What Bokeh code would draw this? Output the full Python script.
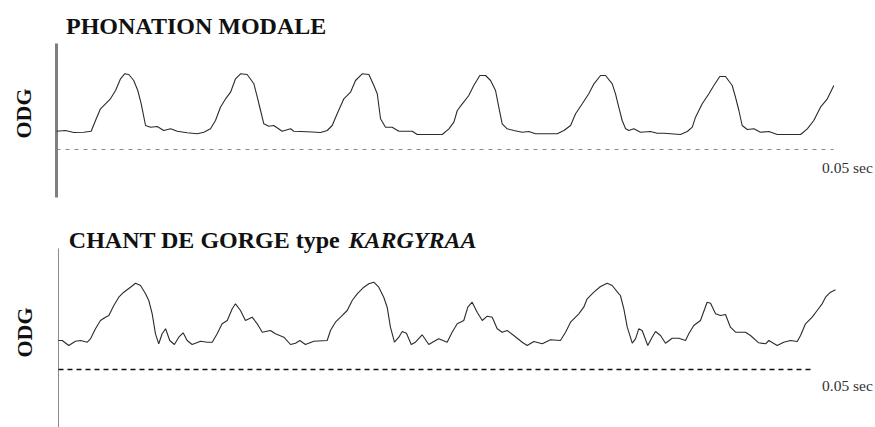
import math
from bokeh.plotting import figure
from bokeh.models import Range1d, Label
from bokeh.layouts import column
from bokeh.embed import file_html
from bokeh.resources import INLINE

# ---------------- data (time in ms, glottal flow ODG in arbitrary units, 0 = dashed time axis) ----
modal_t = [0.00, 0.58, 1.11, 1.76, 2.23, 2.51, 2.83, 3.15, 3.47, 3.80, 4.12, 4.38, 4.65, 4.97, 5.23,
           5.45, 5.73, 6.05, 6.48, 6.90, 7.34, 7.77, 8.41, 9.05, 9.48, 9.91, 10.23, 10.55, 10.88,
           11.20, 11.52, 11.84, 12.27, 12.70, 12.92, 13.13, 13.34, 13.66, 13.98, 14.52, 15.06, 15.27,
           16.13, 16.99, 17.42, 17.74, 18.06, 18.49, 18.92, 19.24, 19.67, 20.10, 20.42, 20.64, 20.85,
           21.17, 21.60, 22.03, 22.89, 23.21, 24.82, 25.25, 25.57, 25.79, 26.11, 26.53, 26.85, 27.24,
           27.61, 27.93, 28.25, 28.46, 28.68, 29.00, 29.43, 29.97, 30.39, 30.82, 32.22, 32.65, 33.08,
           33.40, 33.83, 34.25, 34.58, 35.01, 35.33, 35.76, 35.97, 36.18, 36.40, 36.62, 36.83, 37.15,
           37.58, 38.22, 38.66, 39.08, 40.15, 40.59, 40.91, 41.12, 41.55, 41.98, 42.30, 42.68, 43.05,
           43.48, 43.69, 43.91, 44.12, 44.45, 44.87, 45.30, 45.84, 46.38, 47.88, 48.31, 48.73, 49.16,
           49.60, 50.02]
modal_odg = [18.3, 19.0, 17.0, 17.3, 18.3, 29.0, 40.7, 45.7, 50.7, 59.0, 70.7, 75.7, 75.0, 69.0, 59.0,
             45.7, 24.0, 22.3, 23.0, 19.0, 20.7, 18.3, 16.7, 15.7, 17.3, 20.7, 29.0, 42.3, 50.7,
             57.3, 70.7, 75.7, 75.0, 65.7, 52.3, 39.0, 25.7, 23.3, 24.0, 18.3, 20.7, 18.3,
             17.7, 17.0, 19.0, 24.0, 35.7, 50.7, 57.3, 69.0, 75.7, 75.0, 64.0, 55.7, 30.7,
             22.3, 22.3, 18.3, 18.3, 15.0, 15.0, 20.7, 27.3, 39.0, 45.7, 54.0, 64.0, 74.0,
             74.0, 69.0, 59.0, 42.3, 25.7, 20.7, 19.0, 17.3, 18.0, 15.7, 15.7, 19.0, 24.0,
             35.7, 45.7, 55.7, 65.7, 74.0, 74.0, 65.7, 55.7, 42.3, 29.0, 20.7, 19.0, 20.7,
             17.3, 18.0, 16.3, 16.3, 15.0, 18.0, 22.3, 32.3, 45.7, 55.7, 64.0, 73.0, 73.0,
             64.0, 52.3, 39.0, 24.0, 20.0, 20.7, 17.3, 18.0, 15.0, 15.0, 20.7, 29.0, 42.3,
             50.7, 64.0]

kargyraa_t = [0.00, 0.24, 0.66, 1.09, 1.42, 1.85, 2.06, 2.38, 2.70, 3.02, 3.24, 3.56, 3.88, 4.20, 4.63,
              4.96, 5.28, 5.60, 5.81, 6.03, 6.24, 6.45, 6.67, 6.89, 7.16, 7.46, 7.74, 8.02, 8.28,
              8.60, 9.14, 9.57, 9.89, 10.21, 10.53, 10.86, 11.18, 11.39, 11.71, 12.03, 12.46, 12.79,
              13.11, 13.64, 13.96, 14.50, 14.93, 15.25, 15.53, 15.89, 16.43, 17.29, 17.50, 17.82,
              18.15, 18.58, 18.90, 19.22, 19.65, 19.97, 20.29, 20.61, 20.93, 21.15, 21.36, 21.62,
              21.90, 22.12, 22.39, 22.70, 22.97, 23.40, 23.83, 24.15, 24.47, 25.01, 25.33, 25.66,
              26.08, 26.34, 26.62, 26.94, 27.27, 27.59, 27.91, 28.23, 28.55, 28.87, 29.30, 29.84,
              30.16, 30.59, 31.13, 31.66, 32.30, 32.63, 32.95, 33.48, 33.80, 34.02, 34.45, 34.88,
              35.31, 35.63, 36.06, 36.16, 36.38, 36.60, 36.92, 37.13, 37.34, 37.56, 37.92, 38.20,
              38.42, 38.74, 39.06, 39.49, 39.92, 40.35, 40.56, 40.88, 41.31, 41.74, 41.96, 42.28,
              42.60, 42.92, 43.24, 43.57, 44.21, 44.53, 45.06, 45.50, 45.71, 46.25, 46.67, 47.10,
              47.54, 47.75, 48.07, 48.50, 48.82, 49.14, 49.36, 49.68, 50.00]
kargyraa_odg = [29.0, 29.0, 24.0, 28.3, 29.0, 27.3, 30.7, 40.7, 49.0, 52.3, 54.0, 64.0, 72.3, 77.3, 82.3,
                86.3, 84.0, 75.7, 69.0, 55.7, 35.7, 25.7, 35.7, 40.7, 29.0, 25.0, 32.3, 36.7, 29.0,
                25.0, 28.3, 27.3, 27.3, 35.7, 45.7, 49.0, 60.7, 65.7, 59.0, 49.0, 52.3, 45.7,
                37.3, 39.0, 35.7, 32.3, 25.0, 26.3, 29.0, 25.0, 28.3, 29.0, 39.0, 47.3,
                52.3, 59.0, 69.0, 75.7, 82.3, 85.7, 87.3, 82.3, 72.3, 62.3, 42.3, 27.3,
                32.3, 38.0, 36.3, 25.0, 27.3, 34.7, 25.0, 28.0, 30.7, 27.3, 37.3, 45.7,
                49.0, 62.3, 67.3, 57.3, 49.0, 53.3, 52.3, 40.7, 37.3, 39.0, 34.0, 27.3,
                24.0, 28.0, 25.7, 29.7, 29.0, 37.3, 47.3, 55.7, 62.3, 70.7, 77.3, 83.0,
                86.3, 84.0, 75.7, 74.0, 60.7, 42.3, 26.3, 30.7, 40.7, 39.0, 24.0, 32.3,
                38.0, 34.0, 26.3, 31.3, 31.3, 29.0, 35.7, 44.0, 49.0, 67.3, 66.3, 55.7,
                54.0, 55.0, 42.3, 37.3, 37.3, 34.0, 26.7, 25.7, 29.0, 24.0, 27.3, 29.0,
                28.0, 34.0, 45.7, 52.3, 59.0, 65.7, 72.3, 77.3, 79.7]

modal_time_axis = [0.0, 50.0]      # 0.05 sec
kargyraa_time_axis = [0.0, 48.4]
modal_odg_axis = [106.0, -48.0]
kargyraa_odg_axis = [121.0, -58.0]

titles = ["PHONATION MODALE", "CHANT DE GORGE type ", "KARGYRAA"]
ylabel = "ODG"
scale_label = "0.05 sec"

SERIF = "Liberation Serif"
W = 875


def base_fig(h, xr, yr):
    p = figure(width=W, height=h, x_range=Range1d(*xr), y_range=Range1d(*yr),
               output_backend="svg", toolbar_location=None, min_border=0,
               x_axis_location=None, y_axis_location=None)
    p.grid.visible = False
    p.outline_line_color = None
    p.background_fill_color = "white"
    p.border_fill_color = "white"
    return p


def label(p, x, y, text, size, style="normal", color="#111111", angle=0.0, align="left"):
    p.add_layout(Label(x=x, y=y, x_units="screen", y_units="screen", text=text,
                       text_font=SERIF, text_font_style=style, text_font_size=size,
                       text_color=color, angle=angle, text_align=align,
                       text_baseline="middle"))


# ---------------- top panel ----------------
H1 = 213
p1 = base_fig(H1, (-3.604, 52.70), (-64, 149))
p1.line([0, 0], modal_odg_axis, line_color="#7f7f7f", line_width=3)
p1.line(modal_time_axis, [0, 0], line_color="#8a8a8a", line_width=1, line_dash="4 5")
p1.line(modal_t, modal_odg, line_color="#2b2b2b", line_width=1.1)
label(p1, 65.5, H1 - 25.5, titles[0], "24px", "bold")
label(p1, 22.5, H1 - 113, ylabel, "22px", "bold", angle=math.pi / 2, align="center")
label(p1, 821.5, H1 - 166.7, scale_label, "15.5px", color="#333333")

# ---------------- bottom panel ----------------
H2 = 214
TOP2 = 427
p2 = base_fig(H2, (-3.732, 52.574), (-58, 156))
p2.line([0, 0], kargyraa_odg_axis, line_color="#8a8a8a", line_width=1)
p2.line(kargyraa_time_axis, [0, 0], line_color="#111111", line_width=1.3, line_dash="5 4")
p2.line(kargyraa_t, kargyraa_odg, line_color="#2b2b2b", line_width=1.1)
label(p2, 68.3, TOP2 - 239.7, titles[1], "24px", "bold")
label(p2, 348, TOP2 - 239.7, titles[2], "24px", "bold italic")
label(p2, 24, TOP2 - 332, ylabel, "22px", "bold", angle=math.pi / 2, align="center")
label(p2, 821.5, TOP2 - 384.5, scale_label, "15.5px", color="#333333")

layout = column(p1, p2, spacing=0)
open("out.html", "w").write(file_html(layout, INLINE))
